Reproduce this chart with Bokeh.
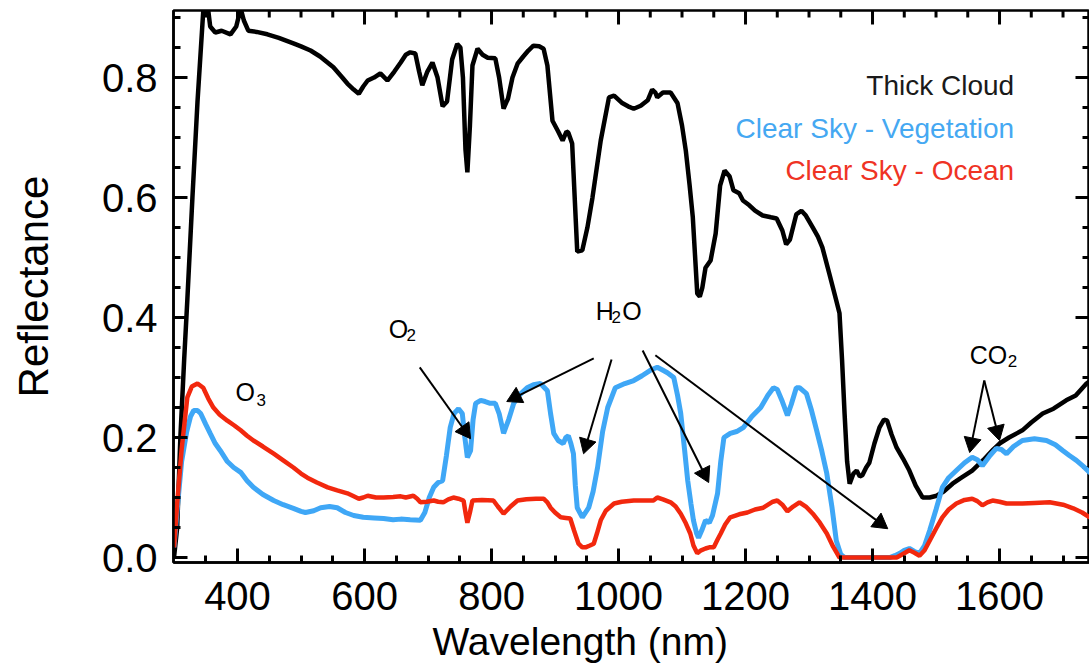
import math
from bokeh.plotting import figure
from bokeh.models import (Range1d, FixedTicker, Title, ColumnDataSource, PrintfTickFormatter)
from bokeh.core.properties import value
from bokeh.embed import file_html
from bokeh.resources import INLINE

FONT = "Liberation Sans"

# ---------------- data ----------------
cloud_wl = [300, 305, 310, 316, 321, 329, 337, 346, 350, 353, 357, 365, 375, 389, 398, 405, 410,
            417, 430, 447, 465, 488, 500, 515, 530, 551, 565, 573, 583, 591, 598, 605, 615,
            625, 636, 647, 657, 665, 672, 680, 686, 691, 699, 707, 715, 723, 730, 738, 746,
            751, 755, 759, 762, 766, 770, 778, 786, 794, 806, 812, 819, 826, 833, 841, 850,
            858, 866, 875, 882, 888, 896, 905, 912, 918, 921, 927, 935, 943, 951, 959, 972,
            985, 993, 1005, 1015, 1024, 1035, 1046, 1053, 1058, 1061, 1070, 1082, 1093, 1100,
            1106, 1112, 1117, 1124, 1128, 1132, 1137, 1145, 1153, 1160, 1167, 1175, 1181,
            1190, 1196, 1206, 1215, 1227, 1240, 1249, 1258, 1264, 1270, 1280, 1288, 1295,
            1306, 1314, 1321, 1332, 1343, 1348, 1352, 1356, 1360, 1364, 1370, 1375, 1380,
            1384, 1390, 1395, 1403, 1411, 1418, 1423, 1430, 1438, 1448, 1458, 1468, 1479,
            1490, 1501, 1512, 1526, 1540, 1557, 1575, 1590, 1600, 1615, 1636, 1650, 1668,
            1685, 1705, 1720, 1737, 1750]
cloud_r = [0.0, 0.05, 0.2, 0.33, 0.43, 0.6, 0.76, 0.91, 0.93, 0.92, 0.885, 0.875, 0.878, 0.872,
           0.885, 0.915, 0.895, 0.878, 0.876, 0.872, 0.866, 0.857, 0.852, 0.845, 0.835, 0.817,
           0.8, 0.79, 0.78, 0.773, 0.785, 0.795, 0.8, 0.807, 0.795, 0.81, 0.825, 0.838, 0.842,
           0.84, 0.81, 0.787, 0.81, 0.825, 0.8, 0.752, 0.76, 0.83, 0.856, 0.85, 0.8, 0.68,
           0.642, 0.72, 0.82, 0.848, 0.838, 0.833, 0.832, 0.8, 0.748, 0.765, 0.8, 0.823, 0.835,
           0.845, 0.853, 0.852, 0.848, 0.82, 0.728, 0.71, 0.695, 0.71, 0.708, 0.69, 0.51,
           0.512, 0.55, 0.6, 0.695, 0.767, 0.77, 0.758, 0.752, 0.748, 0.753, 0.762, 0.78,
           0.775, 0.767, 0.775, 0.775, 0.757, 0.72, 0.678, 0.62, 0.567, 0.44, 0.435, 0.45,
           0.483, 0.495, 0.54, 0.62, 0.645, 0.635, 0.612, 0.607, 0.595, 0.587, 0.578, 0.57,
           0.567, 0.565, 0.545, 0.522, 0.53, 0.572, 0.578, 0.57, 0.55, 0.535, 0.517, 0.473,
           0.428, 0.407, 0.33, 0.24, 0.16, 0.123, 0.14, 0.145, 0.135, 0.137, 0.15, 0.158,
           0.19, 0.217, 0.23, 0.228, 0.205, 0.183, 0.165, 0.145, 0.12, 0.1, 0.1, 0.103, 0.11,
           0.123, 0.133, 0.145, 0.163, 0.18, 0.19, 0.2, 0.212, 0.225, 0.24, 0.248, 0.262,
           0.27, 0.29, 0.3]

veg_wl = [300, 305, 312, 320, 326, 331, 337, 342, 350, 357, 365, 373, 384, 394, 405, 415, 425,
          440, 457, 472, 488, 500, 507, 520, 531, 545, 557, 570, 583, 598, 615, 630, 645, 657,
          672, 688, 695, 702, 709, 716, 723, 729, 735, 741, 748, 754, 758, 762, 767, 771, 775,
          783, 790, 798, 806, 812, 819, 827, 835, 845, 856, 866, 877, 888, 893, 898, 905, 913,
          917, 921, 925, 929, 932, 935, 943, 953, 960, 967, 975, 983, 995, 1010, 1024, 1037,
          1050, 1061, 1070, 1077, 1087, 1093, 1098, 1104, 1109, 1114, 1118, 1123, 1126, 1131,
          1137, 1143, 1148, 1156, 1161, 1166, 1176, 1186, 1197, 1210, 1224, 1235, 1244, 1250,
          1258, 1266, 1272, 1280, 1285, 1296, 1304, 1312, 1320, 1328, 1336, 1343, 1350, 1356,
          1370, 1390, 1410, 1427, 1435, 1443, 1450, 1458, 1466, 1474, 1482, 1490, 1500, 1510,
          1520, 1532, 1545, 1557, 1565, 1573, 1585, 1595, 1603, 1611, 1622, 1636, 1655, 1674,
          1688, 1700, 1710, 1721, 1732, 1742, 1750]
veg_r = [0.017, 0.08, 0.16, 0.21, 0.235, 0.245, 0.245, 0.24, 0.222, 0.207, 0.19, 0.178, 0.16,
         0.15, 0.142, 0.128, 0.117, 0.105, 0.095, 0.088, 0.082, 0.077, 0.075, 0.078, 0.083,
         0.085, 0.083, 0.075, 0.07, 0.067, 0.066, 0.065, 0.063, 0.064, 0.063, 0.062, 0.075,
         0.1, 0.117, 0.125, 0.128, 0.17, 0.217, 0.24, 0.248, 0.24, 0.2, 0.167, 0.178, 0.23,
         0.257, 0.262, 0.26, 0.257, 0.257, 0.24, 0.207, 0.23, 0.257, 0.272, 0.283, 0.288,
         0.29, 0.278, 0.24, 0.207, 0.195, 0.19, 0.2, 0.203, 0.19, 0.173, 0.12, 0.083, 0.067,
         0.083, 0.11, 0.15, 0.21, 0.25, 0.283, 0.29, 0.295, 0.303, 0.312, 0.317, 0.312,
         0.308, 0.3, 0.27, 0.24, 0.18, 0.128, 0.09, 0.062, 0.04, 0.033, 0.045, 0.062, 0.058,
         0.07, 0.107, 0.16, 0.2, 0.207, 0.21, 0.217, 0.235, 0.25, 0.27, 0.283, 0.28, 0.26,
         0.237, 0.255, 0.283, 0.283, 0.273, 0.245, 0.212, 0.178, 0.14, 0.085, 0.028, 0.005,
         0.0, 0.0, 0.0, 0.0, 0.0, 0.003, 0.007, 0.012, 0.015, 0.01, 0.007, 0.02, 0.045, 0.08,
         0.117, 0.133, 0.145, 0.158, 0.167, 0.163, 0.153, 0.17, 0.182, 0.18, 0.173, 0.185,
         0.195, 0.198, 0.195, 0.188, 0.178, 0.17, 0.162, 0.152, 0.142, 0.135]

ocean_wl = [300, 305, 312, 321, 328, 337, 346, 354, 362, 372, 384, 395, 405, 415, 425, 440,
            457, 472, 488, 500, 510, 525, 542, 557, 573, 583, 591, 598, 605, 618, 630, 645,
            657, 665, 677, 683, 688, 698, 709, 716, 724, 732, 740, 748, 756, 759, 762, 766,
            770, 785, 803, 810, 819, 830, 841, 855, 870, 882, 888, 893, 900, 909, 917, 924,
            930, 937, 943, 948, 955, 961, 966, 972, 980, 993, 1005, 1024, 1040, 1055, 1061,
            1070, 1082, 1090, 1098, 1106, 1113, 1118, 1124, 1130, 1137, 1143, 1150, 1156,
            1161, 1168, 1176, 1190, 1203, 1215, 1228, 1243, 1250, 1258, 1266, 1275, 1285,
            1295, 1306, 1317, 1328, 1338, 1348, 1360, 1380, 1400, 1420, 1438, 1448, 1458,
            1466, 1474, 1482, 1490, 1500, 1510, 1520, 1532, 1545, 1557, 1565, 1573, 1581,
            1589, 1600, 1611, 1625, 1636, 1655, 1679, 1700, 1716, 1730, 1742, 1750]
ocean_r = [0.017, 0.09, 0.18, 0.267, 0.285, 0.29, 0.283, 0.265, 0.25, 0.238, 0.228, 0.22,
           0.212, 0.203, 0.195, 0.185, 0.173, 0.162, 0.15, 0.14, 0.133, 0.125, 0.117, 0.112,
           0.107, 0.102, 0.098, 0.1, 0.103, 0.1, 0.1, 0.101, 0.102, 0.1, 0.103, 0.098, 0.092,
           0.093, 0.095, 0.093, 0.092, 0.097, 0.1, 0.098, 0.095, 0.075, 0.058, 0.075, 0.095,
           0.096, 0.095, 0.085, 0.073, 0.085, 0.095, 0.097, 0.098, 0.098, 0.092, 0.083, 0.075,
           0.067, 0.066, 0.065, 0.045, 0.023, 0.017, 0.017, 0.02, 0.023, 0.04, 0.062, 0.078,
           0.09, 0.093, 0.095, 0.095, 0.095, 0.1, 0.097, 0.092, 0.085, 0.073, 0.057, 0.04,
           0.02, 0.007, 0.012, 0.015, 0.017, 0.017, 0.03, 0.04, 0.055, 0.067, 0.072, 0.075,
           0.08, 0.083, 0.093, 0.095, 0.088, 0.077, 0.085, 0.092, 0.085, 0.073, 0.058, 0.04,
           0.018, 0.0, 0.0, 0.0, 0.0, 0.0, 0.0, 0.006, 0.012, 0.008, 0.003, 0.012, 0.028,
           0.048, 0.067, 0.08, 0.09, 0.096, 0.098, 0.094, 0.087, 0.092, 0.095, 0.093, 0.09,
           0.09, 0.09, 0.091, 0.092, 0.088, 0.082, 0.075, 0.067, 0.062]

# ticks
x_major = [400, 600, 800, 1000, 1200, 1400, 1600]
x_minor = [350, 450, 500, 550, 650, 700, 750, 850, 900, 950, 1050, 1100, 1150,
           1250, 1300, 1350, 1450, 1500, 1550, 1650, 1700]
y_major = [0.0, 0.2, 0.4, 0.6, 0.8]
y_minor = [0.05, 0.1, 0.15, 0.25, 0.3, 0.35, 0.45, 0.5, 0.55, 0.65, 0.7, 0.75, 0.85, 0.9]

# legend entries
legend_text = ["Thick Cloud", "Clear Sky - Vegetation", "Clear Sky - Ocean"]
legend_color = ["#1a1a1a", "#45a8f2", "#ef3324"]
legend_x = [1623, 1623, 1623]
legend_y = [0.773, 0.702, 0.632]

# absorption notes (main letters + subscripts)
note_text = ["O", "3", "O", "2", "H", "2", "O", "CO", "2"]
note_size = ["25px", "17px", "25px", "17px", "25px", "17px", "25px", "25px", "17px"]
note_x = [397, 430, 638, 666, 964, 989, 1006, 1553, 1613]
note_y = [0.262, 0.250, 0.368, 0.357, 0.398, 0.388, 0.398, 0.325, 0.315]

# arrows (start -> tip)
arr_x0 = [687, 961, 989, 1038, 1058, 1576, 1576]
arr_y0 = [0.317, 0.332, 0.330, 0.345, 0.337, 0.295, 0.295]
arr_x1 = [767, 824, 945, 1142, 1424, 1553, 1600]
arr_y1 = [0.198, 0.260, 0.173, 0.125, 0.048, 0.175, 0.195]

# ---------------- figure ----------------
W, H = 1089, 670
LEFT, TOP, BOTTOM = 173, 10, 108
xr = Range1d(299.2, 1741.7)
yr = Range1d(-0.0083, 0.9117)
p = figure(width=W, height=H, x_range=xr, y_range=yr,
           output_backend="svg", toolbar_location=None,
           min_border_left=LEFT, min_border_right=0, min_border_top=TOP,
           min_border_bottom=BOTTOM)
p.outline_line_color = "black"
p.outline_line_width = 2.5
p.grid.visible = False

frame_w = W - LEFT
frame_h = H - TOP - BOTTOM
nm_per_px = (xr.end - xr.start) / frame_w
r_per_px = (yr.end - yr.start) / frame_h

# inward ticks on the top and right edges (bottom/left come from the axes)
tick_xs, tick_ys = [], []
for vals, length in ((x_major, 14), (x_minor, 7)):
    d = length * r_per_px
    for v in vals:
        tick_xs.append([v, v])
        tick_ys.append([yr.end, yr.end - d])
for vals, length in ((y_major, 14), (y_minor, 7)):
    d = length * nm_per_px
    for v in vals:
        tick_xs.append([xr.end, xr.end - d])
        tick_ys.append([v, v])
p.multi_line(tick_xs, tick_ys, line_color="black", line_width=3)

for ax in (p.xaxis[0], p.yaxis[0]):
    ax.axis_line_width = 2.5
    ax.major_tick_in = 14
    ax.major_tick_out = 0
    ax.minor_tick_in = 7
    ax.minor_tick_out = 0
    ax.major_tick_line_width = 3
    ax.minor_tick_line_width = 3
    ax.major_label_text_font = FONT
    ax.major_label_text_color = "black"
    ax.major_label_text_font_size = "40px"

xa = p.xaxis[0]
xa.ticker = FixedTicker(ticks=x_major, minor_ticks=x_minor)
xa.major_label_standoff = 19

ya = p.yaxis[0]
ya.ticker = FixedTicker(ticks=y_major, minor_ticks=y_minor)
ya.formatter = PrintfTickFormatter(format="%.1f")
ya.major_label_standoff = 16
ya.axis_label = "Reflectance"
ya.axis_label_text_font = FONT
ya.axis_label_text_font_size = "42px"
ya.axis_label_text_font_style = "normal"
ya.axis_label_text_color = "black"
ya.axis_label_standoff = 42

xtitle = Title(text="Wavelength (nm)", align="left", offset=259, standoff=11,
               text_font=FONT, text_font_size="39px", text_font_style="normal",
               text_color="black")
p.add_layout(xtitle, "below")

# curves
p.line(cloud_wl, cloud_r, line_color="black", line_width=4.5)
p.line(veg_wl, veg_r, line_color="#3fa7f6", line_width=5)
p.line(ocean_wl, ocean_r, line_color="#f2280e", line_width=4.5)

# arrows drawn as glyphs: shaft segments + filled triangle heads
HEAD = 17                                   # triangle marker size in px
tip_to_center = HEAD / 2 * math.sqrt(3) * 2 / 3
hx, hy, ha, sx1, sy1 = [], [], [], [], []
for x0, y0, x1, y1 in zip(arr_x0, arr_y0, arr_x1, arr_y1):
    dxp = (x1 - x0) / nm_per_px
    dyp = (y1 - y0) / r_per_px
    n = math.hypot(dxp, dyp)
    ux, uy = dxp / n, dyp / n
    cx = x1 - ux * tip_to_center * nm_per_px
    cy = y1 - uy * tip_to_center * r_per_px
    hx.append(cx)
    hy.append(cy)
    ha.append(math.atan2(uy, ux) - math.pi / 2)
    sx1.append(cx)
    sy1.append(cy)
p.segment(x0=arr_x0, y0=arr_y0, x1=sx1, y1=sy1, line_color="black", line_width=2)
p.scatter(hx, hy, marker="triangle", size=HEAD, angle=ha,
          fill_color="black", line_color="black", line_width=1)

# legend texts
leg = ColumnDataSource(dict(x=legend_x, y=legend_y, t=legend_text, c=legend_color))
p.text(x="x", y="y", text="t", text_color="c", source=leg, text_align="right",
       text_baseline="alphabetic", text_font=value(FONT), text_font_size="28px",
       y_offset=-8)

# notes
notes = ColumnDataSource(dict(x=note_x, y=note_y, t=note_text, s=note_size))
p.text(x="x", y="y", text="t", text_font_size="s", source=notes, text_align="left",
       text_baseline="alphabetic", text_font=value(FONT), text_color="black",
       y_offset=-8)

open("out.html", "w").write(file_html(p, INLINE))
